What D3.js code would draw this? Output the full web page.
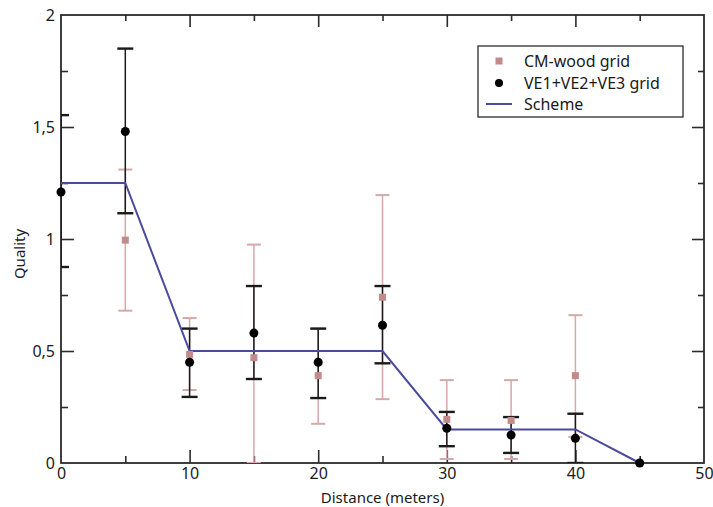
<!DOCTYPE html>
<html>
<head>
<meta charset="utf-8">
<script src="https://cdn.jsdelivr.net/npm/d3@7"></script>
<style>
  body { margin: 0; background: #fff; }
  text { font-family: "Noto Sans", "Open Sans", sans-serif; fill: #1a1a1a; }
</style>
</head>
<body>
<div id="chart"></div>
<script>
// data
const distances = [0, 5, 10, 15, 20, 25, 30, 35, 40, 45];

// VE1+VE2+VE3 grid (black dots)
const veValue = [1.21, 1.48, 0.45, 0.58, 0.45, 0.615, 0.155, 0.125, 0.11, 0];
const veLow   = [0.875, 1.115, 0.295, 0.375, 0.29, 0.445, 0.075, 0.045, 0, 0];
const veHigh  = [1.553, 1.85, 0.60, 0.79, 0.60, 0.79, 0.228, 0.205, 0.22, 0];

// CM-wood grid (pink squares), no point at 0
const cmDistances = [5, 10, 15, 20, 25, 30, 35, 40, 45];
const cmValue = [0.995, 0.485, 0.47, 0.39, 0.74, 0.195, 0.19, 0.39, 0];
const cmLow   = [0.68, 0.326, 0, 0.175, 0.285, 0.018, 0.018, 0.116, 0];
const cmHigh  = [1.31, 0.647, 0.975, 0.60, 1.196, 0.37, 0.37, 0.66, 0];

// Scheme line
const schemeX = [0, 5, 10, 25, 30, 40, 45];
const schemeY = [1.25, 1.25, 0.5, 0.5, 0.15, 0.15, 0];

const xTicks = [0, 10, 20, 30, 40, 50];
const yTicks = [0, 0.5, 1, 1.5, 2];
const yTickLabels = ["0", "0,5", "1", "1,5", "2"];

const width = 713, height = 507;
const margin = {top: 15, right: 9, bottom: 44, left: 61};
const innerWidth = width - margin.left - margin.right,
    innerHeight = height - margin.top - margin.bottom;

const axisColor = "#2b2b2b";
const blue = "#4b4b9e";
const pink = "#c28a8a";
const pinkBar = "#d6a8a8";

const svg = d3.select("#chart").append("svg")
    .attr("width", width)
    .attr("height", height);

const g = svg.append("g")
    .attr("transform", `translate(${margin.left},${margin.top})`);

const xScale = d3.scaleLinear().domain([0, 50]).range([0, innerWidth]);
const yScale = d3.scaleLinear().domain([0, 2]).range([innerHeight, 0]);

svg.append("defs").append("clipPath").attr("id", "plotClip")
    .append("rect")
    .attr("width", innerWidth)
    .attr("height", innerHeight);

// axes: ticks pointing inward, major + minor
const xMinor = d3.range(5, 50, 10);
const yMinor = d3.range(0.25, 2, 0.5);

function styleAxis(sel) {
    sel.select(".domain").remove();
    sel.selectAll(".tick line").attr("stroke", axisColor).attr("stroke-width", 1.6);
    sel.selectAll(".tick text").style("font-size", "16px").attr("fill", "#1a1a1a");
}

const bottomAxis = g.append("g")
    .attr("transform", `translate(0,${innerHeight})`)
    .call(d3.axisBottom(xScale).tickValues(xTicks).tickSizeInner(-13).tickSizeOuter(0).tickPadding(5).tickFormat(d3.format("d")));
styleAxis(bottomAxis);
bottomAxis.selectAll(".tick").filter(d => d === 0 || d === 50).select("line").remove();

g.append("g")
    .attr("transform", `translate(0,${innerHeight})`)
    .call(d3.axisBottom(xScale).tickValues(xMinor).tickSizeInner(-7).tickSizeOuter(0).tickFormat(""))
    .call(styleAxis);

g.append("g")
    .call(d3.axisTop(xScale).tickValues(xTicks.slice(1, -1)).tickSizeInner(-12).tickSizeOuter(0).tickFormat(""))
    .call(styleAxis);
g.append("g")
    .call(d3.axisTop(xScale).tickValues(xMinor).tickSizeInner(-6).tickSizeOuter(0).tickFormat(""))
    .call(styleAxis);

const leftAxis = g.append("g")
    .call(d3.axisLeft(yScale).tickValues(yTicks).tickSizeInner(-13).tickSizeOuter(0).tickPadding(6)
        .tickFormat((d, i) => yTickLabels[i]));
styleAxis(leftAxis);
leftAxis.selectAll(".tick").filter(d => d === 0 || d === 2).select("line").remove();

g.append("g")
    .call(d3.axisLeft(yScale).tickValues(yMinor).tickSizeInner(-7).tickSizeOuter(0).tickFormat(""))
    .call(styleAxis);

g.append("g")
    .attr("transform", `translate(${innerWidth},0)`)
    .call(d3.axisRight(yScale).tickValues(yTicks.slice(1, -1)).tickSizeInner(-12).tickSizeOuter(0).tickFormat(""))
    .call(styleAxis);
g.append("g")
    .attr("transform", `translate(${innerWidth},0)`)
    .call(d3.axisRight(yScale).tickValues(yMinor).tickSizeInner(-6).tickSizeOuter(0).tickFormat(""))
    .call(styleAxis);

// frame
g.append("rect")
    .attr("width", innerWidth)
    .attr("height", innerHeight)
    .attr("fill", "none")
    .attr("stroke", axisColor)
    .attr("stroke-width", 1.8);

// axis labels
g.append("text")
    .attr("x", innerWidth / 2)
    .attr("y", innerHeight + 40)
    .attr("text-anchor", "middle")
    .style("font-size", "15px")
    .text("Distance (meters)");

g.append("text")
    .attr("transform", `rotate(-90)`)
    .attr("x", -innerHeight / 2 - 15)
    .attr("y", -36)
    .attr("text-anchor", "middle")
    .style("font-size", "15px")
    .text("Quality");

// error bars
function errorBars(xs, lows, highs, color, sw, capW, capSw) {
    const eb = g.append("g").attr("clip-path", "url(#plotClip)");
    const rows = xs.map((x, i) => ({x: x, lo: lows[i], hi: highs[i]})).filter(d => d.hi > d.lo);
    eb.selectAll(".stem").data(rows).enter().append("line")
        .attr("x1", d => xScale(d.x)).attr("x2", d => xScale(d.x))
        .attr("y1", d => yScale(d.lo)).attr("y2", d => yScale(d.hi))
        .attr("stroke", color).attr("stroke-width", sw);
    const caps = [];
    rows.forEach(d => { caps.push({x: d.x, y: d.lo}); caps.push({x: d.x, y: d.hi}); });
    eb.selectAll(".cap").data(caps).enter().append("line")
        .attr("x1", d => xScale(d.x) - capW / 2).attr("x2", d => xScale(d.x) + capW / 2)
        .attr("y1", d => yScale(d.y)).attr("y2", d => yScale(d.y))
        .attr("stroke", color).attr("stroke-width", capSw);
}

errorBars(cmDistances, cmLow, cmHigh, pinkBar, 1.5, 14, 2);
errorBars(distances, veLow, veHigh, "#1a1a1a", 1.5, 16, 2.4);

// scheme line
const line = d3.line().x(d => xScale(d[0])).y(d => yScale(d[1]));
g.append("path")
    .datum(schemeX.map((x, i) => [x, schemeY[i]]))
    .attr("d", line)
    .attr("fill", "none")
    .attr("stroke", blue)
    .attr("stroke-width", 2);

// CM-wood squares
g.selectAll(".cm").data(cmDistances.map((x, i) => ({x: x, y: cmValue[i]})))
    .enter().append("rect")
    .attr("x", d => xScale(d.x) - 3.5)
    .attr("y", d => yScale(d.y) - 3.5)
    .attr("width", 7).attr("height", 7)
    .attr("fill", pink);

// VE dots
g.selectAll(".ve").data(distances.map((x, i) => ({x: x, y: veValue[i]})))
    .enter().append("circle")
    .attr("cx", d => xScale(d.x))
    .attr("cy", d => yScale(d.y))
    .attr("r", 4.5)
    .attr("fill", "#000");

// legend
const legend = svg.append("g").attr("transform", "translate(478,46)");
legend.append("rect")
    .attr("width", 205).attr("height", 71)
    .attr("fill", "#fff")
    .attr("stroke", axisColor)
    .attr("stroke-width", 1.3);
const rowY = [15, 37, 58];
legend.append("rect").attr("x", 17.5).attr("y", rowY[0] - 3.5).attr("width", 7).attr("height", 7).attr("fill", pink);
legend.append("circle").attr("cx", 21).attr("cy", rowY[1]).attr("r", 4).attr("fill", "#000");
legend.append("line").attr("x1", 8).attr("x2", 34).attr("y1", rowY[2]).attr("y2", rowY[2])
    .attr("stroke", blue).attr("stroke-width", 2);
const labels = ["CM-wood grid", "VE1+VE2+VE3 grid", "Scheme"];
legend.selectAll(".lt").data(labels).enter().append("text")
    .attr("x", 46)
    .attr("y", (d, i) => rowY[i])
    .attr("dy", "0.35em")
    .style("font-size", "16px")
    .text(d => d);
</script>
</body>
</html>
